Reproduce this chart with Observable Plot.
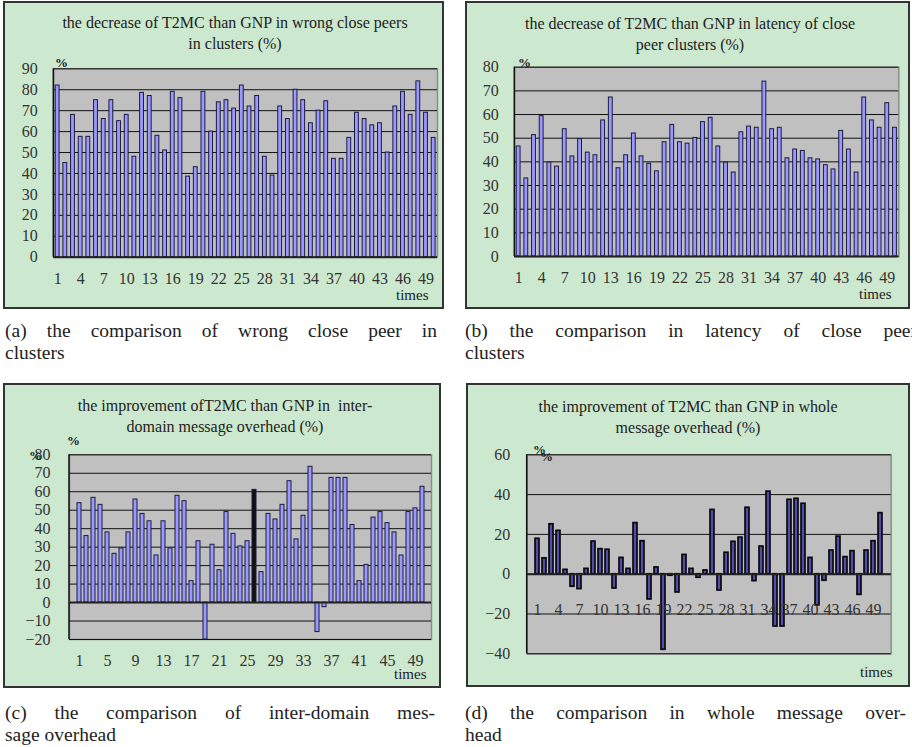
<!DOCTYPE html>
<html><head><meta charset="utf-8">
<script src="https://cdn.jsdelivr.net/npm/d3@7"></script>
<script src="https://cdn.jsdelivr.net/npm/@observablehq/plot@0.6"></script>
<style>
body{margin:0;background:#fff;}
#root{position:relative;width:912px;height:747px;overflow:hidden;font-family:"Liberation Serif","Times New Roman",serif;color:#222;}
.panel{position:absolute;background:#cce8cf;border:2px solid #333;box-sizing:border-box;}
.ptitle{position:absolute;text-align:center;font-size:16px;line-height:21px;white-space:pre;}
.pct{position:absolute;font-weight:bold;font-size:13px;line-height:13px;}
.times{position:absolute;font-size:15px;line-height:15px;}
.cap{position:absolute;font-size:19.5px;line-height:22px;white-space:nowrap;}
.cap.j{text-align:justify;text-align-last:justify;white-space:normal;}
svg.plt{position:absolute;}
svg.plt, svg.plt text{font-family:"Liberation Serif","Times New Roman",serif !important;}
</style>
</head><body><div id="root"></div>
<script>
// ---------- data ----------
const times = [1,2,3,4,5,6,7,8,9,10,11,12,13,14,15,16,17,18,19,20,21,22,23,24,25,26,27,28,29,30,31,32,33,34,35,36,37,38,39,40,41,42,43,44,45,46,47,48,49,50];
const xTicksA = [1,4,7,10,13,16,19,22,25,28,31,34,37,40,43,46,49];
const xTicksB = [1,4,7,10,13,16,19,22,25,28,31,34,37,40,43,46,49];
const xTicksC = [1,5,9,13,17,21,25,29,33,37,41,45,49];
const xTicksD = [1,4,7,10,13,16,19,22,25,28,31,34,37,40,43,46,49];
const yTicksA = [0,10,20,30,40,50,60,70,80,90];
const yTicksB = [0,10,20,30,40,50,60,70,80];
const yTicksC = [-20,-10,0,10,20,30,40,50,60,70,80];
const yTicksD = [-40,-20,0,20,40,60];
const valuesA = [82,45,68,57.5,57.5,75,66,75,65,68,48,78.5,77,58,51,79,76,38.5,43,79,60,74,75,71,82,72,77,48,39,72,66,80,75,64,70,74.5,47,47,57,69,66,63,64,50,72,79,68,84,69,57];
const valuesB = [46.5,33,51.3,59.3,39.7,38,53.8,42.3,49.6,43.9,42.8,57.5,67.2,37.3,42.8,52,42.3,39.2,36,48.3,55.6,48.3,47.7,50.1,56.8,58.6,46.5,39.7,35.5,52.5,54.9,54.4,73.9,53.8,54.4,41.5,45.2,44.6,41.5,41,38.6,36.8,53.1,45.2,35.5,67.2,57.5,54.4,64.8,54.4];
const valuesC = [53.8,36,56.7,52.9,38,26.4,29.3,38,55.8,48,44,25.5,44,29.3,57.8,54.9,11.6,33.2,-20,31.3,17.5,49,37.2,30.4,33.2,61,16.5,48,45,52.9,65.7,34.2,47,73.5,-16,-2.5,67.5,67.5,67.5,42,11.6,20.4,46,49,43,38,25.5,49,51,62.7];
const valuesD = [17.8,8,25.1,21.8,2.2,-6.3,-7.5,2.7,16.4,12.6,12.3,-7.2,8.2,2.7,25.7,16.6,-12.7,3.4,-38,-0.8,-9.2,9.7,2.7,-1.8,1.9,32.3,-8.2,10.8,16.3,18.4,33.4,-3.5,13.9,41.5,-26.3,-26.3,37.4,37.9,35.4,8.2,-15.7,-3.3,11.9,18.9,8.6,11.6,-10.4,11.9,16.6,30.7];
const darkBarsC = [26];
const dLabelLevel = -20;
const titleA = ["the decrease of T2MC than GNP in wrong close peers", "in clusters (%)"];
const titleB = ["the decrease of T2MC than GNP in latency of close", "peer clusters (%)"];
const titleC = ["the improvement ofT2MC than GNP in  inter-", "domain message overhead (%)"];
const titleD = ["the improvement of T2MC than GNP in whole", "message overhead (%)"];
const captionA = ["(a) the comparison of wrong close peer in", "clusters"];
const captionB = ["(b) the comparison in latency of close peer", "clusters"];
const captionC = ["(c) the comparison of inter-domain mes-", "sage overhead"];
const captionD = ["(d) the comparison in whole message over-", "head"];
const unitY = "%";
const unitX = "times";

// ---------- helpers ----------
const root = document.getElementById("root");
function el(cls, txt, css) {
  const d = document.createElement("div");
  d.className = cls; if (txt != null) d.textContent = txt;
  Object.assign(d.style, css); root.appendChild(d); return d;
}
function leftLine(color, w) {
  return (index, scales, values, dims) => {
    const l = document.createElementNS("http://www.w3.org/2000/svg", "line");
    l.setAttribute("x1", dims.marginLeft); l.setAttribute("x2", dims.marginLeft);
    l.setAttribute("y1", dims.marginTop); l.setAttribute("y2", dims.height - dims.marginBottom);
    l.setAttribute("stroke", color); l.setAttribute("stroke-width", w);
    return l;
  };
}

function panel(c) {
  el("panel", null, {left: c.box[0] + "px", top: c.box[1] + "px", width: c.box[2] + "px", height: c.box[3] + "px"});
  const rows = times.map((t, i) => ({t, v: c.values[i]}));
  const marks = [
    Plot.frame({fill: "#c0c0c0", stroke: "#8c8c8c", strokeWidth: 1.5}),
    Plot.ruleY(c.yTicks, {stroke: "#111", strokeWidth: 1}),
    leftLine("#111", 1.5),
    Plot.barY(rows, {x: "t", y: "v", fill: c.fill, stroke: c.stroke, strokeWidth: c.sw}),
    Plot.ruleY([0], {stroke: "#222", strokeWidth: 2})
  ];
  if (c.textTicks) marks.push(Plot.text(c.xTicks, {x: d => d, y: () => dLabelLevel, dy: -4, fill: "#333", fontSize: 16}));
  const svg = Plot.plot({
    width: c.box[2], height: c.box[3],
    marginLeft: c.m[0], marginTop: c.m[1], marginRight: c.m[2], marginBottom: c.m[3],
    style: {background: "transparent", fontFamily: "'Liberation Serif', serif", fontSize: "16px", color: "#333", overflow: "visible"},
    x: {type: "band", domain: times, paddingInner: c.pad, paddingOuter: c.pad / 2, ticks: c.xTicks, tickSize: 0, tickPadding: 15, label: null, axis: c.textTicks ? null : "bottom"},
    y: {domain: c.yDomain, ticks: c.yTicks, tickSize: 0, tickPadding: c.ytp, label: null},
    marks
  });
  svg.classList.add("plt");
  svg.style.left = c.box[0] + "px"; svg.style.top = c.box[1] + "px";
  root.appendChild(svg);
  el("ptitle", c.title.join("\n"), {left: (c.tx - 250) + "px", top: c.ty + "px", width: "500px"});
  el("times", unitX, {left: c.timesPos[0] + "px", top: c.timesPos[1] + "px"});
  for (const p of c.pct) el("pct", unitY, {left: p[0] + "px", top: p[1] + "px"});
}

panel({box: [3, 1, 441, 308], m: [50.3, 67.3, 7, 52.3], values: valuesA, yDomain: [0, 90], yTicks: yTicksA, xTicks: xTicksA,
  pad: 0.5, fill: "#9999ff", stroke: "#1a1a40", sw: 1, ytp: 16, title: titleA, tx: 235, ty: 12,
  timesPos: [396, 288], pct: [[55, 56]]});
panel({box: [465, 1, 445, 308], m: [49.3, 65.7, 11.7, 53], values: valuesB, yDomain: [0, 80], yTicks: yTicksB, xTicks: xTicksB,
  pad: 0.5, fill: "#9999ff", stroke: "#1a1a40", sw: 1, ytp: 16, title: titleB, tx: 690, ty: 13,
  timesPos: [859, 287], pct: [[518, 56]]});
panel({box: [3, 383, 438, 305], m: [66, 71.3, 10, 49], values: valuesC, yDomain: [-20, 80], yTicks: yTicksC, xTicks: xTicksC,
  pad: 0.5, fill: d => darkBarsC.includes(d.t) ? "#111" : "#9999ff", stroke: "#1a1a40", sw: 1, ytp: 19, title: titleC, tx: 225, ty: 395,
  timesPos: [394, 667], pct: [[67, 434], [29, 449]]});
panel({box: [466, 383, 444, 304], m: [60.7, 71.3, 19.3, 33.7], values: valuesD, yDomain: [-40, 60], yTicks: yTicksD, xTicks: xTicksD,
  pad: 0.4, fill: "#5050aa", stroke: "#000", sw: 1.6, ytp: 17, title: titleD, tx: 688, ty: 396, textTicks: true,
  timesPos: [860, 665], pct: [[533, 443], [540, 450]]});

// captions
function caption(lines, x, y, w) {
  el("cap j", lines[0], {left: x + "px", top: y + "px", width: w + "px"});
  el("cap", lines[1], {left: x + "px", top: (y + 22) + "px"});
}
caption(captionA, 5, 320, 432);
caption(captionB, 465, 320, 452);
caption(captionC, 5, 702, 430);
caption(captionD, 465, 702, 441);
</script>
</body></html>
